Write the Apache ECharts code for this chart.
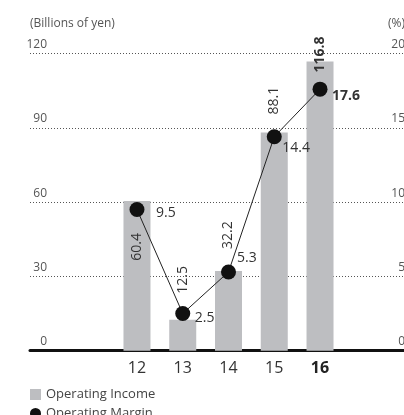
<!DOCTYPE html>
<html><head><meta charset="utf-8">
<script src="https://cdn.jsdelivr.net/npm/echarts@6/dist/echarts.min.js"></script>
<style>html,body{margin:0;padding:0;background:#fff}#c{width:404px;height:415px}</style>
</head><body><div id="c"></div>
<script>
const categories = ['12', '13', '14', '15', '16'];
const operatingIncome = [60.4, 12.5, 32.2, 88.1, 116.8];
const operatingMargin = [9.5, 2.5, 5.3, 14.4, 17.6];
const leftTicks = [0, 30, 60, 90, 120];
const rightTicks = [0, 5, 10, 15, 20];

const FONT = '"Open Sans", sans-serif';
// label styling (not data)
const barLabelCfg = [
  {position: 'insideTop', align: 'right', distance: 32},
  {position: 'top', align: 'left', distance: 26},
  {position: 'top', align: 'left', distance: 22},
  {position: 'top', align: 'left', distance: 18},
  {position: 'top', align: 'left', distance: -11, fontWeight: 'bold'}
];
const lineLabelOffset = [[11.5, 3], [4.5, 4], [1, -14], [0.5, 11], [4.5, 7]];

const chart = echarts.init(document.getElementById('c'));
const gTop = 53.5, gBottom = 415 - 350.7;
const legendText = {fontSize: 13, color: '#444', fontFamily: FONT};
chart.setOption({
  animation: false,
  textStyle: {fontFamily: FONT},
  grid: [
    {left: 30, right: 0, top: gTop, bottom: gBottom, containLabel: false, outerBoundsMode: 'none'},
    {left: 114.1, right: 61.1, top: gTop, bottom: gBottom, containLabel: false, outerBoundsMode: 'none'}
  ],
  legend: [
    {left: 25, top: 383, itemWidth: 11, itemHeight: 11, itemGap: 4, textStyle: legendText,
     data: [{name: 'Operating Income', icon: 'rect'}]},
    {left: 25, top: 402, itemWidth: 11, itemHeight: 11, itemGap: 4, textStyle: legendText,
     data: [{name: 'Operating Margin', icon: 'circle'}]}
  ],
  xAxis: [
    {gridIndex: 0, type: 'category', data: [''], axisLine: {lineStyle: {color: '#111', width: 3}},
     axisTick: {show: false}, axisLabel: {show: false}},
    {gridIndex: 1, type: 'category', data: categories, axisLine: {show: false}, axisTick: {show: false},
     axisLabel: {interval: 0, margin: 10, fontSize: 16, color: '#333', fontFamily: FONT,
       formatter: v => v === '16' ? '{b|' + v + '}' : v,
       rich: {b: {fontSize: 16, fontWeight: 'bold', color: '#222', fontFamily: FONT}}}}
  ],
  yAxis: [
    {gridIndex: 0, type: 'value', min: leftTicks[0], max: leftTicks[leftTicks.length - 1], interval: 30,
     name: '(Billions of yen)', nameLocation: 'end', nameGap: 24,
     nameTextStyle: {align: 'left', fontSize: 12, color: '#555', fontFamily: FONT},
     axisLine: {show: false}, axisTick: {show: false},
     axisLabel: {margin: -17, fontSize: 12, color: '#555', verticalAlign: 'bottom', padding: [0, 0, 3, 0]},
     splitLine: {lineStyle: {color: '#555', width: 1, type: [1, 2]}}},
    {gridIndex: 0, type: 'value', position: 'right', min: rightTicks[0], max: rightTicks[rightTicks.length - 1], interval: 5,
     name: '(%)', nameLocation: 'end', nameGap: 24,
     nameTextStyle: {align: 'left', fontSize: 12, color: '#555', fontFamily: FONT, padding: [0, 0, 0, -16]},
     axisLine: {show: false}, axisTick: {show: false},
     axisLabel: {margin: 1, align: 'right', fontSize: 12, color: '#555', verticalAlign: 'bottom', padding: [0, 0, 3, 0]},
     splitLine: {show: false}},
    {gridIndex: 1, type: 'value', min: 0, max: 120, show: false},
    {gridIndex: 1, type: 'value', min: 0, max: 20, show: false}
  ],
  series: [
    {name: 'Operating Income', type: 'bar', xAxisIndex: 1, yAxisIndex: 2, barWidth: 27,
     itemStyle: {color: '#bdbec1'},
     data: operatingIncome.map((v, i) => ({
       value: v,
       label: Object.assign({show: true, rotate: 90, verticalAlign: 'middle', fontSize: 14,
         color: '#333', fontFamily: FONT}, barLabelCfg[i])
     }))},
    {name: 'Operating Margin', type: 'line', xAxisIndex: 1, yAxisIndex: 3, symbol: 'circle', symbolSize: 15,
     z: 5,
     lineStyle: {color: '#222', width: 1}, itemStyle: {color: '#111'},
     data: operatingMargin.map((v, i) => ({
       value: v,
       label: {show: true, position: 'right', distance: 0, offset: lineLabelOffset[i],
         fontSize: 14, color: '#333', fontFamily: FONT, fontWeight: i === 4 ? 'bold' : 'normal'}
     }))}
  ]
});
</script></body></html>
